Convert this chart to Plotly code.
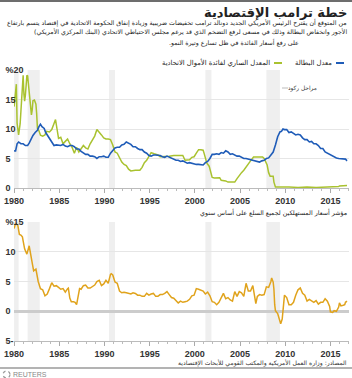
import plotly.graph_objects as go

W, H = 352, 378

# ---------------- data ----------------
unemp_dates = ["1980-01","1980-03","1980-05","1980-07","1980-10","1981-01","1981-04","1981-07","1981-09","1981-12",
"1982-02","1982-05","1982-08","1982-10","1982-12","1983-02","1983-05","1983-07","1983-10","1983-12",
"1984-03","1984-06","1984-09","1984-12","1985-03","1985-06","1985-09","1985-12","1986-03","1986-06","1986-09","1986-12",
"1987-03","1987-06","1987-09","1987-12","1988-03","1988-06","1988-09","1988-12","1989-03","1989-06","1989-09","1989-12",
"1990-03","1990-06","1990-09","1990-12","1991-03","1991-06","1991-09","1991-12","1992-03","1992-06","1992-09","1992-12",
"1993-03","1993-06","1993-09","1993-12","1994-03","1994-06","1994-09","1994-12","1995-03","1995-06","1995-09","1995-12",
"1996-03","1996-06","1996-09","1996-12","1997-03","1997-06","1997-09","1997-12","1998-03","1998-06","1998-09","1998-12",
"1999-03","1999-06","1999-09","1999-12","2000-03","2000-06","2000-09","2000-12","2001-03","2001-06","2001-09","2001-12",
"2002-03","2002-06","2002-09","2002-12","2003-03","2003-06","2003-09","2003-12","2004-03","2004-06","2004-09","2004-12",
"2005-03","2005-06","2005-09","2005-12","2006-03","2006-06","2006-09","2006-12","2007-03","2007-06","2007-09","2007-12",
"2008-03","2008-06","2008-09","2008-12","2009-03","2009-06","2009-08","2009-10","2009-12","2010-03","2010-06","2010-09","2010-12",
"2011-03","2011-06","2011-09","2011-12","2012-03","2012-06","2012-09","2012-12","2013-03","2013-06","2013-09","2013-12",
"2014-03","2014-06","2014-09","2014-12","2015-03","2015-06","2015-09","2015-12","2016-03","2016-06","2016-09","2016-11"]
unemp_vals = [6.3,6.3,7.5,7.8,7.5,7.5,7.2,7.2,7.6,8.5,
8.9,9.4,9.8,10.4,10.8,10.4,10.1,9.4,8.8,8.3,
7.8,7.2,7.3,7.3,7.2,7.4,7.1,7.0,7.2,7.2,7.0,6.6,
6.6,6.2,5.9,5.7,5.7,5.4,5.4,5.3,5.0,5.3,5.3,5.4,
5.2,5.2,5.9,6.3,6.8,6.9,6.9,7.3,7.4,7.8,7.6,7.4,
7.0,7.0,6.7,6.5,6.5,6.1,5.9,5.5,5.4,5.6,5.6,5.6,
5.5,5.3,5.2,5.4,5.2,5.0,4.9,4.7,4.7,4.5,4.6,4.4,
4.2,4.3,4.2,4.0,4.0,4.0,3.9,3.9,4.3,4.5,5.0,5.7,
5.7,5.8,5.7,6.0,5.9,6.3,6.1,5.7,5.8,5.6,5.4,5.4,
5.2,5.0,5.0,4.9,4.7,4.6,4.5,4.4,4.4,4.6,4.7,5.0,
5.1,5.6,6.1,7.3,8.7,9.5,9.6,10.0,9.9,9.9,9.4,9.5,9.3,
9.0,9.1,9.0,8.5,8.2,8.2,7.8,7.9,7.5,7.5,7.2,6.7,
6.7,6.1,5.9,5.6,5.4,5.3,5.1,5.0,5.0,4.9,4.9,4.6]

fed_dates = ["1980-01","1980-03","1980-04","1980-05","1980-06","1980-07","1980-09","1980-11","1980-12",
"1981-01","1981-02","1981-03","1981-04","1981-05","1981-06","1981-07","1981-08","1981-09","1981-10","1981-11","1981-12",
"1982-01","1982-02","1982-04","1982-06","1982-07","1982-08","1982-10","1982-12","1983-03","1983-06","1983-08","1983-12",
"1984-03","1984-06","1984-08","1984-10","1984-12","1985-03","1985-06","1985-09","1985-12","1986-03","1986-06","1986-09","1986-12",
"1987-03","1987-06","1987-09","1987-12","1988-03","1988-06","1988-09","1988-12","1989-03","1989-06","1989-09","1989-12",
"1990-03","1990-06","1990-09","1990-12","1991-03","1991-06","1991-09","1991-12","1992-03","1992-06","1992-09","1992-12",
"1993-06","1993-12","1994-03","1994-06","1994-09","1994-12","1995-03","1995-07","1995-12","1996-03","1996-09","1997-03","1997-09",
"1998-03","1998-09","1998-12","1999-03","1999-06","1999-09","1999-12","2000-03","2000-06","2000-09","2000-12",
"2001-01","2001-03","2001-05","2001-08","2001-10","2001-12","2002-03","2002-10","2002-12","2003-06","2003-09","2004-06","2004-09","2004-12",
"2005-03","2005-06","2005-09","2005-12","2006-03","2006-07","2007-07","2007-09","2007-12","2008-01","2008-03","2008-05","2008-09","2008-10","2008-12",
"2009-06","2010-06","2011-06","2012-06","2013-06","2014-06","2015-06","2015-12","2016-01","2016-06","2016-11"]
fed_vals = [13.8,17.2,17.6,11.0,9.0,9.0,10.9,15.9,18.9,
19.1,15.9,14.7,15.7,18.5,19.1,19.0,17.8,15.9,15.1,13.3,12.4,
13.2,14.8,14.9,14.2,12.6,10.1,9.7,8.95,8.8,9.0,9.6,9.5,
9.9,11.1,11.6,10.0,8.4,8.6,7.5,7.9,8.3,7.5,6.9,5.9,6.9,
6.1,6.7,7.2,6.8,6.6,7.5,8.2,8.8,9.9,9.5,9.0,8.5,
8.3,8.3,8.2,7.3,6.1,5.9,5.2,4.4,4.0,3.8,3.2,2.9,
3.0,3.0,3.5,4.3,4.7,5.5,6.0,5.8,5.6,5.3,5.3,5.4,5.5,
5.5,5.5,4.7,4.8,4.8,5.2,5.3,5.9,6.5,6.5,6.4,
6.0,5.3,4.2,3.7,2.5,1.8,1.7,1.75,1.3,1.2,1.0,1.0,1.6,2.2,
2.6,3.0,3.6,4.2,4.6,5.25,5.26,5.0,4.2,3.9,2.6,2.0,2.0,1.0,0.16,
0.2,0.18,0.09,0.16,0.09,0.1,0.13,0.24,0.34,0.38,0.41]

cpi_dates = ["1980-01","1980-03","1980-06","1980-08","1980-10","1980-12","1981-03","1981-06","1981-09","1981-12",
"1982-03","1982-06","1982-09","1982-12","1983-03","1983-06","1983-09","1983-12","1984-03","1984-06","1984-09","1984-12",
"1985-03","1985-06","1985-09","1985-12","1986-01","1986-03","1986-05","1986-08","1986-10","1986-12",
"1987-03","1987-04","1987-06","1987-09","1987-12","1988-03","1988-06","1988-09","1988-12","1989-03","1989-06","1989-09","1989-12",
"1990-03","1990-06","1990-09","1990-10","1990-12","1991-03","1991-06","1991-09","1991-12","1992-03","1992-06","1992-09","1992-12",
"1993-03","1993-06","1993-09","1993-12","1994-03","1994-06","1994-09","1994-12","1995-03","1995-06","1995-09","1995-12",
"1996-03","1996-06","1996-09","1996-12","1997-03","1997-06","1997-09","1997-12","1998-03","1998-06","1998-09","1998-12",
"1999-03","1999-06","1999-09","1999-12","2000-03","2000-06","2000-09","2000-12","2001-03","2001-06","2001-09","2001-12",
"2002-03","2002-06","2002-09","2002-12","2003-03","2003-06","2003-09","2003-12","2004-03","2004-06","2004-09","2004-12",
"2005-03","2005-06","2005-09","2005-12","2006-03","2006-06","2006-09","2006-10","2006-12","2007-03","2007-06","2007-09","2007-12",
"2008-03","2008-06","2008-07","2008-09","2008-10","2008-11","2008-12","2009-03","2009-05","2009-07","2009-09","2009-11","2009-12",
"2010-03","2010-06","2010-09","2010-12","2011-03","2011-06","2011-09","2011-12","2012-03","2012-06","2012-09","2012-12",
"2013-03","2013-06","2013-09","2013-12","2014-03","2014-06","2014-09","2014-12","2015-01","2015-04","2015-06","2015-09","2015-12",
"2016-01","2016-03","2016-06","2016-08","2016-09","2016-11"]
cpi_vals = [13.9,14.8,14.4,12.9,12.8,12.5,10.5,9.6,11.0,8.9,
6.8,7.1,5.0,3.8,3.6,2.6,2.9,3.8,4.8,4.2,4.3,4.0,
3.7,3.8,3.2,3.8,3.9,2.2,1.6,1.6,1.5,1.1,
3.0,3.8,3.7,4.3,4.4,3.9,3.9,4.2,4.4,5.0,5.2,4.3,4.6,
5.2,4.7,6.2,6.3,6.1,4.9,4.7,3.4,3.1,3.2,3.1,3.0,2.9,
3.1,3.0,2.7,2.7,2.5,2.5,3.0,2.7,2.9,3.0,2.5,2.5,
2.8,2.8,3.0,3.3,2.8,2.3,2.2,1.7,1.4,1.7,1.5,1.6,
1.7,2.0,2.6,2.7,3.8,3.7,3.5,3.4,2.9,3.2,2.6,1.6,
1.5,1.1,1.5,2.4,3.0,2.1,2.3,1.9,1.7,3.3,2.5,3.3,
3.1,2.5,4.7,3.4,3.4,4.3,2.1,1.3,2.5,2.8,2.7,2.8,4.1,
4.0,5.0,5.6,4.9,3.7,1.1,0.1,-0.4,-1.3,-2.1,-1.3,1.8,2.7,
2.3,1.1,1.1,1.5,2.7,3.6,3.9,3.0,2.7,1.7,2.0,1.7,
1.5,1.8,1.2,1.5,1.5,2.1,1.7,0.8,-0.1,-0.2,0.1,0.0,0.7,
1.4,0.9,1.0,1.1,1.5,1.7]

recession_start = ["1980-01-01","1981-07-01","1990-07-01","2001-03-01","2007-12-01"]
recession_end = ["1980-07-01","1982-11-01","1991-03-01","2001-11-01","2009-06-01"]

top_ticks = [0, 5, 10, 15, 20]
top_tick_text = ["0", "5", "10", "15", "%20"]
bot_ticks = [-5, 0, 5, 10, 15]
bot_tick_text = ["5-", "0", "5", "10", "%15"]

title = "خطة ترامب الإقتصادية"
subtitle_lines = [
    "من المتوقع أن يقترح الرئيس الأمريكي الجديد دونالد ترامب تخفيضات ضريبية وزيادة إنفاق الحكومة الاتحادية في إقتصاد يتسم بارتفاع",
    "الأجور وانخفاض البطالة وذلك في مسعى لرفع التضخم الذي قد يرغم مجلس الاحتياطي الاتحادي (البنك المركزي الأمريكي)",
    "على رفع أسعار الفائدة في ظل تسارع وتيرة النمو.",
]
legend_unemp = "معدل البطالة"
legend_fed = "المعدل الساري لفائدة الأموال الاتحادية"
legend_rec = "مراحل ركود"
cpi_title = "مؤشر أسعار المستهلكين لجميع السلع على أساس سنوي"
source = "المصادر: وزارة العمل الأمريكية والمكتب القومي للأبحاث الإقتصادية"

BLUE = "#1f5cb8"
GREEN = "#a9c22f"
GOLD = "#e0a31c"
REC = "#efefef"
AR_FONT = "DejaVu Sans, Noto Sans, Liberation Sans, sans-serif"
NUM_FONT = "Liberation Sans"

def px(x):
    return x / W

def py(y):
    return 1 - y / H

RLM = "\u200f"

fig = go.Figure()
fig.add_trace(go.Scatter(x=fed_dates, y=fed_vals, mode="lines", line=dict(color=GREEN, width=1.5),
                         xaxis="x", yaxis="y", showlegend=False))
fig.add_trace(go.Scatter(x=unemp_dates, y=unemp_vals, mode="lines", line=dict(color=BLUE, width=1.6),
                         xaxis="x", yaxis="y", showlegend=False))
fig.add_trace(go.Scatter(x=cpi_dates, y=cpi_vals, mode="lines", line=dict(color=GOLD, width=1.5),
                         xaxis="x2", yaxis="y2", showlegend=False))

shapes = []
for s, e in zip(recession_start, recession_end):
    for xr, yr in (("x", "y domain"), ("x2", "y2 domain")):
        shapes.append(dict(type="rect", xref=xr, yref=yr, x0=s, x1=e, y0=0, y1=1,
                           fillcolor=REC, line=dict(width=0), layer="below"))

# top border line
shapes.append(dict(type="rect", xref="paper", yref="paper", x0=0, x1=1, y0=py(2), y1=1,
                   fillcolor="#6d6d6d", line=dict(width=0)))
# source separator line
shapes.append(dict(type="line", xref="paper", yref="paper", x0=0, x1=1, y0=py(368), y1=py(368),
                   line=dict(color="#9a9a9a", width=1.5)))
# legend swatches
shapes.append(dict(type="line", xref="paper", yref="paper", x0=px(336), x1=px(344), y0=py(63), y1=py(63),
                   line=dict(color=BLUE, width=2)))
shapes.append(dict(type="line", xref="paper", yref="paper", x0=px(274), x1=px(282), y0=py(63), y1=py(63),
                   line=dict(color=GREEN, width=2)))
shapes.append(dict(type="line", xref="paper", yref="paper", x0=px(282), x1=px(288), y0=py(88), y1=py(88),
                   line=dict(color="#bbbbbb", width=1)))
# reuters logo ring
shapes.append(dict(type="circle", xref="paper", yref="paper", x0=px(3), x1=px(10),
                   y0=py(378), y1=py(371), line=dict(color="#999999", width=1.2, dash="dot")))

def note(text, x, y, size, color="#222222", anchor="right", bold=False, family=AR_FONT):
    return dict(text=text, x=px(x), y=py(y), xref="paper", yref="paper", xanchor=anchor, yanchor="middle",
                showarrow=False, borderpad=0, font=dict(family=family, size=size, color=color,
                                                         weight="bold" if bold else "normal"))

ann = []
ann.append(note(title, 348, 12, 13, bold=True))
sub_right = [348, 348, 300]
for i, line in enumerate(subtitle_lines):
    ann.append(note(RLM + line + RLM, sub_right[i], 23 + 9.5 * i, 6.25))
ann.append(note(legend_unemp, 333, 63, 6.8))
ann.append(note(legend_fed, 271, 63, 6.8))
ann.append(note(legend_rec, 318, 88, 5.8, color="#333333"))
ann.append(note(cpi_title, 348, 212, 6.3))
ann.append(note(source, 348, 362.5, 6.1, color="#333333"))
ann.append(note("REUTERS", 12, 374.5, 7, color="#888888", anchor="left", family=NUM_FONT))

xdom = [px(14), px(348.5)]
xcommon = dict(type="date", range=["1979-12-28", "2017-01-01"], domain=xdom, tick0="1980-01-01", dtick="M60",
               tickformat="%Y", ticks="outside", ticklen=4, tickcolor="#aaaaaa", showgrid=False,
               showline=True, linecolor="#bbbbbb", linewidth=1, automargin=False, ticklabeloverflow="allow",
               tickfont=dict(family=NUM_FONT, size=9, color="#333333", weight="bold"),
               minor=dict(dtick="M12", tick0="1980-01-01", ticks="outside", ticklen=2, tickcolor="#bbbbbb"),
               fixedrange=True)

ycommon = dict(anchor="free", position=px(1.5), ticklabelposition="inside", ticks="", automargin=False,
               ticklabeloverflow="allow", showgrid=True, gridcolor="#e6e6e6", gridwidth=1, showline=False,
               tickfont=dict(family=NUM_FONT, size=9, color="#333333", weight="bold"), fixedrange=True)

fig.update_layout(
    width=W, height=H, margin=dict(l=0, r=0, t=0, b=0, autoexpand=False),
    paper_bgcolor="white", plot_bgcolor="white",
    shapes=shapes, annotations=ann, showlegend=False,
    xaxis=dict(anchor="y", **xcommon),
    xaxis2=dict(anchor="y2", **xcommon),
    yaxis=dict(domain=[py(188), py(70)], range=[0, 20], tickvals=top_ticks, ticktext=top_tick_text,
               zeroline=False, **ycommon),
    yaxis2=dict(domain=[py(341), py(222)], range=[-5, 15], tickvals=bot_ticks, ticktext=bot_tick_text,
                zeroline=True, zerolinecolor="#cccccc", zerolinewidth=3, **ycommon),
)

fig.write_html("out.html", config={"displayModeBar": False})
